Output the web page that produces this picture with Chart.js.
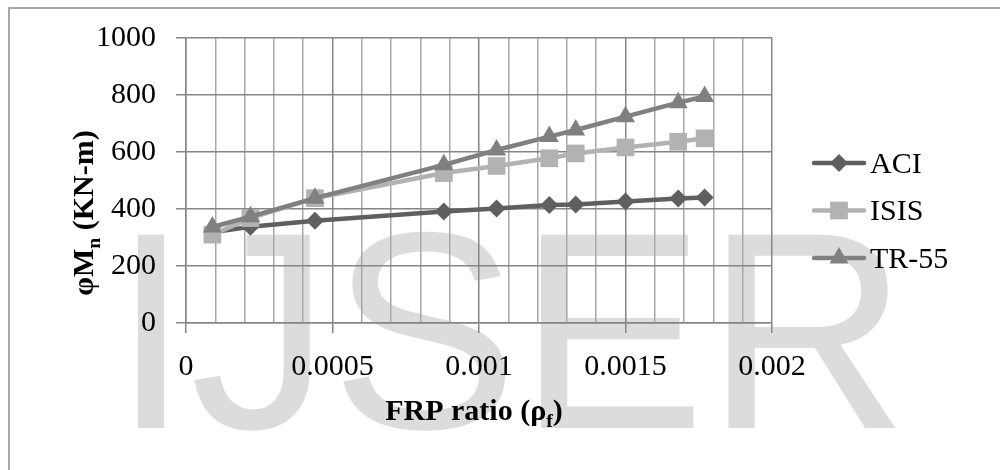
<!DOCTYPE html>
<html>
<head>
<meta charset="utf-8">
<script src="https://cdn.jsdelivr.net/npm/chart.js@4.4.1/dist/chart.umd.min.js"></script>
<style>
  html, body { margin: 0; padding: 0; background: #fff; }
  canvas { display: block; }
</style>
</head>
<body>
<canvas id="chart" width="1000" height="470"></canvas>
<script>
// values
const frpRatio = [0.00009, 0.00022, 0.00044, 0.00088, 0.00106, 0.00124, 0.00133, 0.0015, 0.00168, 0.00177]
const aci = [318, 338, 359, 391, 402, 414, 416, 426, 437, 440]
const isis = [310, 368, 438, 526, 551, 578, 595, 616, 636, 648]
const tr55 = [337, 373, 438, 555, 607, 654, 677, 724, 773, 795]
const xTickLabels = ['0', '0.0005', '0.001', '0.0015', '0.002']
const yTickLabels = ['0', '200', '400', '600', '800', '1000']

const SERIF = '"Liberation Serif", "Times New Roman", serif'
const AXIS = '#868686'
const MINOR = '#a8a8a8'

const toPoints = ys => ys.map((y, i) => ({ x: frpRatio[i], y: y }))

const series = [
  { label: 'ACI', values: aci, color: '#5f5f5f', style: 'rectRot', radius: 9, order: 2 },
  { label: 'ISIS', values: isis, color: '#b2b2b2', style: 'rect', radius: 12.5, order: 1 },
  { label: 'TR-55', values: tr55, color: '#808080', style: 'triangle', radius: 11, order: 0 }
]

// small marker painter for the hand drawn legend
const marker = (ctx, style, r, x, y) => {
  ctx.beginPath()
  if (style === 'rectRot') {
    ctx.moveTo(x, y - r); ctx.lineTo(x + r, y); ctx.lineTo(x, y + r); ctx.lineTo(x - r, y)
  } else if (style === 'rect') {
    const s = r * Math.SQRT1_2
    ctx.rect(x - s, y - s, 2 * s, 2 * s)
  } else {
    ctx.moveTo(x, y - r)
    ctx.lineTo(x + r * Math.sin(2 * Math.PI / 3), y - r * Math.cos(2 * Math.PI / 3))
    ctx.lineTo(x + r * Math.sin(4 * Math.PI / 3), y - r * Math.cos(4 * Math.PI / 3))
  }
  ctx.closePath()
  ctx.fill()
}

// text with one subscript piece: parts = [[text, isSub], ...]
const runWidth = (ctx, parts, size) => parts.reduce((w, p) => {
  ctx.font = 'bold ' + (p[1] ? size * 0.66 : size) + 'px ' + SERIF
  return w + ctx.measureText(p[0]).width
}, 0)

const drawRun = (ctx, parts, size, x, y) => {
  parts.forEach(p => {
    ctx.font = 'bold ' + (p[1] ? size * 0.66 : size) + 'px ' + SERIF
    ctx.fillText(p[0], x, p[1] ? y + size * 0.22 : y)
    x += ctx.measureText(p[0]).width
  })
}

const decor = {
  id: 'decor',
  beforeDraw(chart) {
    const ctx = chart.ctx
    ctx.save()
    ctx.strokeStyle = '#8a8a8a'
    ctx.lineWidth = 1.5
    ctx.strokeRect(9, 8, 1200, 800)
    ctx.fillStyle = '#dcdcdc'
    ctx.font = '281px "Liberation Sans", Arial, sans-serif'
    ctx.textBaseline = 'alphabetic'
    ctx.fillText('IJSER', 112, 428)
    ctx.restore()
  },
  afterDraw(chart) {
    const ctx = chart.ctx
    const area = chart.chartArea
    ctx.save()
    ctx.fillStyle = '#000'
    ctx.textBaseline = 'alphabetic'

    // y axis title
    const yParts = [['φM', false], ['n', true], [' (KN-m)', false]]
    ctx.save()
    ctx.translate(93, 213)
    ctx.rotate(-Math.PI / 2)
    drawRun(ctx, yParts, 30, -runWidth(ctx, yParts, 30) / 2, 0)
    ctx.restore()

    // x axis title
    const xParts = [['FRP ratio (ρ', false], ['f', true], [')', false]]
    const cx = (area.left + area.right) / 2 - 5
    drawRun(ctx, xParts, 30, cx - runWidth(ctx, xParts, 30) / 2, 420)

    // legend
    chart.data.datasets.forEach((ds, i) => {
      const s = series[i]
      const y = 163 + i * 47.5
      ctx.strokeStyle = s.color
      ctx.fillStyle = s.color
      ctx.lineWidth = 4.5
      ctx.lineCap = 'round'
      ctx.beginPath()
      ctx.moveTo(814, y)
      ctx.lineTo(864, y)
      ctx.stroke()
      marker(ctx, s.style, s.radius, 839, y)
      ctx.fillStyle = '#000'
      ctx.font = '30px ' + SERIF
      ctx.textBaseline = 'middle'
      ctx.fillText(ds.label, 870, y + 2)
    })
    ctx.restore()
  }
}

new Chart(document.getElementById('chart'), {
  type: 'line',
  data: {
    datasets: series.map(s => ({
      label: s.label,
      data: toPoints(s.values),
      borderColor: s.color,
      backgroundColor: s.color,
      borderWidth: 4.5,
      pointStyle: s.style,
      pointRadius: s.radius,
      pointBorderWidth: 0,
      pointBackgroundColor: s.color,
      order: s.order,
      tension: 0
    }))
  },
  options: {
    responsive: false,
    animation: false,
    layout: { padding: { top: 38, right: 228, left: 0, bottom: 0 } },
    plugins: {
      legend: { display: false },
      tooltip: { enabled: false }
    },
    scales: {
      x: {
        type: 'linear',
        min: 0,
        max: 0.002,
        afterFit: s => { s.height = 147 },
        ticks: {
          stepSize: 0.0001,
          autoSkip: false,
          maxRotation: 0,
          padding: 16,
          color: '#000',
          font: { family: SERIF, size: 30 },
          callback: (v, i) => i % 5 === 0 ? xTickLabels[i / 5] : ''
        },
        grid: {
          color: c => c.index % 5 === 0 ? AXIS : MINOR,
          tickColor: c => c.index % 5 === 0 ? AXIS : 'rgba(0,0,0,0)',
          lineWidth: 1.5,
          tickLength: 10
        },
        border: { color: AXIS, width: 1.5 }
      },
      y: {
        min: 0,
        max: 1000,
        afterFit: s => { s.width = 186 },
        ticks: {
          stepSize: 200,
          padding: 20,
          color: '#000',
          font: { family: SERIF, size: 30 },
          callback: (v, i) => yTickLabels[i]
        },
        grid: {
          color: AXIS,
          lineWidth: 1.5,
          tickLength: 10
        },
        border: { color: AXIS, width: 1.5 }
      }
    }
  },
  plugins: [decor]
})
</script>
</body>
</html>
